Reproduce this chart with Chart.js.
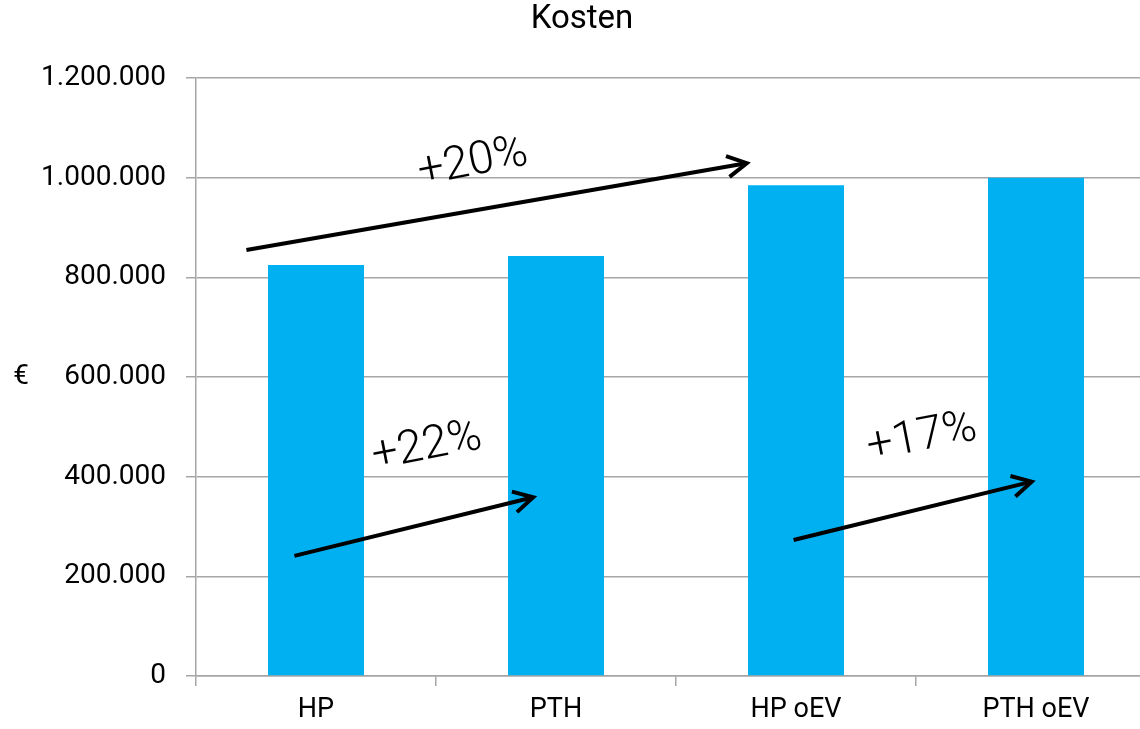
<!DOCTYPE html>
<html lang="de">
<head>
<meta charset="utf-8">
<title>Kosten</title>
<script src="https://cdn.jsdelivr.net/npm/chart.js@4/dist/chart.umd.min.js"></script>
<style>
  html, body { margin: 0; padding: 0; background: #fff; overflow: hidden; }
  #wrap { width: 1140px; height: 729px; overflow: hidden; position: relative; }
  canvas { display: block; }
</style>
</head>
<body>
<div id="wrap">
  <canvas id="chart" width="1164" height="729"></canvas>
</div>
<script>
// Cost per variant
const categories = ['HP', 'PTH', 'HP oEV', 'PTH oEV'];
const kosten = [825000, 843000, 985000, 1000000];

// Value axis
const yMin = 0;
const yMax = 1200000;
const yStep = 200000;

// Comparison arrows (x in category index units, y in €)
const arrowLabels = ['+20%', '+22%', '+17%'];
const arrowFromX = [-0.29, -0.09, 1.99];
const arrowFromY = [855000, 241000, 273000];
const arrowToX = [1.795, 0.905, 2.982];
const arrowToY = [1029000, 358600, 390000];
const labelX = [0.654, 0.4625, 2.525];
const labelY = [1029000, 459000, 477000];

const FONT = 'Roboto, "Noto Sans", Arial, sans-serif';
const BAR_COLOR = '#00B0F0';
const GRID_COLOR = '#a6a6a6';

function formatDE(v) {
  return String(Math.round(v)).replace(/\B(?=(\d{3})+(?!\d))/g, '.');
}

// Horizontal "€" unit label on the left of the value axis
const unitLabel = {
  id: 'unitLabel',
  afterDraw(chart) {
    const { ctx, chartArea } = chart;
    ctx.save();
    ctx.font = '28px ' + FONT;
    ctx.fillStyle = '#000';
    ctx.textAlign = 'center';
    ctx.textBaseline = 'middle';
    ctx.fillText('€', 21, (chartArea.top + chartArea.bottom) / 2);
    ctx.restore();
  }
};

// Arrows with percentage labels, positioned through the chart scales
const arrowNotes = {
  id: 'arrowNotes',
  afterDatasetsDraw(chart) {
    const { ctx } = chart;
    const xs = chart.scales.x, ys = chart.scales.y;
    ctx.save();
    ctx.strokeStyle = '#000';
    ctx.lineWidth = 4;
    ctx.lineCap = 'butt';
    ctx.lineJoin = 'miter';
    for (let i = 0; i < arrowLabels.length; i++) {
      const x1 = xs.getPixelForValue(arrowFromX[i]);
      const y1 = ys.getPixelForValue(arrowFromY[i]);
      const x2 = xs.getPixelForValue(arrowToX[i]);
      const y2 = ys.getPixelForValue(arrowToY[i]);
      const a = Math.atan2(y2 - y1, x2 - x1);
      ctx.beginPath();
      ctx.moveTo(x1, y1);
      ctx.lineTo(x2 - 2 * Math.cos(a), y2 - 2 * Math.sin(a));
      ctx.stroke();
      const head = 22, spread = 0.5;
      ctx.beginPath();
      ctx.moveTo(x2 - head * Math.cos(a - spread), y2 - head * Math.sin(a - spread));
      ctx.lineTo(x2, y2);
      ctx.lineTo(x2 - head * Math.cos(a + spread), y2 - head * Math.sin(a + spread));
      ctx.stroke();

      const lx = xs.getPixelForValue(labelX[i]);
      const ly = ys.getPixelForValue(labelY[i]);
      ctx.save();
      ctx.translate(lx, ly);
      ctx.rotate(-11 * Math.PI / 180);
      ctx.font = '300 46px ' + FONT;
      ctx.fillStyle = '#000';
      ctx.textAlign = 'center';
      ctx.textBaseline = 'middle';
      ctx.fillText(arrowLabels[i], 0, 0);
      ctx.restore();
    }
    ctx.restore();
  }
};

new Chart(document.getElementById('chart'), {
  type: 'bar',
  data: {
    labels: categories,
    datasets: [{
      label: 'Kosten',
      data: kosten,
      backgroundColor: BAR_COLOR,
      borderWidth: 0,
      categoryPercentage: 1.0,
      barPercentage: 0.4
    }]
  },
  options: {
    responsive: false,
    animation: false,
    devicePixelRatio: 1,
    layout: { padding: { left: 8, right: 8, top: 0, bottom: 0 } },
    plugins: {
      legend: { display: false },
      tooltip: { enabled: false },
      title: {
        display: true,
        text: 'Kosten',
        color: '#000',
        font: { family: FONT, size: 33, weight: 'normal' },
        padding: { top: 0, bottom: 38.4 }
      }
    },
    scales: {
      x: {
        offset: true,
        grid: {
          display: true,
          offset: true,
          drawOnChartArea: false,
          drawTicks: true,
          tickLength: 10,
          color: GRID_COLOR,
          lineWidth: 1.5
        },
        border: { display: true, color: GRID_COLOR, width: 1.5 },
        ticks: {
          color: '#000',
          font: { family: FONT, size: 27 },
          padding: 8,
          maxRotation: 0,
          autoSkip: false
        },
        afterFit(scale) { scale.height = 53; }
      },
      y: {
        min: yMin,
        max: yMax,
        grid: {
          color: GRID_COLOR,
          lineWidth: 1.5,
          drawTicks: true,
          tickLength: 10
        },
        border: { display: true, color: GRID_COLOR, width: 1.5 },
        ticks: {
          stepSize: yStep,
          color: '#000',
          font: { family: FONT, size: 28 },
          padding: 20,
          callback: (v) => formatDE(v)
        },
        afterFit(scale) { scale.width = 188; }
      }
    }
  },
  plugins: [unitLabel, arrowNotes]
});
</script>
</body>
</html>
